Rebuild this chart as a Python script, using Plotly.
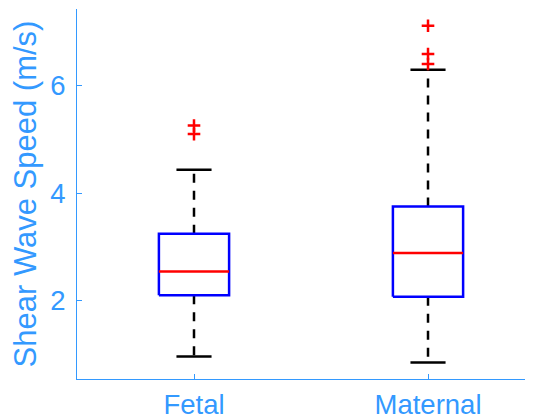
import plotly.graph_objects as go

# ---- data ----
categories = ["Fetal", "Maternal"]
positions = [1, 2]
q1 = [2.10, 2.07]
medians = [2.54, 2.885]
q3 = [3.245, 3.75]
lower_whisker = [0.963, 0.851]
upper_whisker = [4.433, 6.292]
outliers = [
    [5.253, 5.095],
    [7.110, 6.584, 6.398],
]
y_ticks = [2, 4, 6]

# ---- styles ----
BLUE_TXT = "#3399ff"
BOX_HALF = 0.15
CAP_HALF = 0.075
LW = 2.5
FONT = "Liberation Sans, Arial, Helvetica, sans-serif"

fig = go.Figure()

for i, p in enumerate(positions):
    # whiskers (dashed)
    fig.add_trace(go.Scatter(
        x=[p, p, None, p, p],
        y=[q3[i], upper_whisker[i], None, q1[i], lower_whisker[i]],
        mode="lines", line=dict(color="black", width=LW, dash="9px,8px"),
        hoverinfo="skip", showlegend=False))
    # caps
    fig.add_trace(go.Scatter(
        x=[p - CAP_HALF, p + CAP_HALF, None, p - CAP_HALF, p + CAP_HALF],
        y=[upper_whisker[i], upper_whisker[i], None, lower_whisker[i], lower_whisker[i]],
        mode="lines", line=dict(color="black", width=LW),
        hoverinfo="skip", showlegend=False))
    # box
    fig.add_trace(go.Scatter(
        x=[p - BOX_HALF, p + BOX_HALF, p + BOX_HALF, p - BOX_HALF, p - BOX_HALF],
        y=[q1[i], q1[i], q3[i], q3[i], q1[i]],
        mode="lines", line=dict(color="#0000ff", width=LW),
        hoverinfo="skip", showlegend=False))
    # median
    fig.add_trace(go.Scatter(
        x=[p - BOX_HALF, p + BOX_HALF],
        y=[medians[i], medians[i]],
        mode="lines", line=dict(color="#ff0000", width=LW),
        hoverinfo="skip", showlegend=False))
    # outliers
    fig.add_trace(go.Scatter(
        x=[p] * len(outliers[i]), y=outliers[i],
        mode="markers",
        marker=dict(symbol="cross-thin", size=9, line=dict(color="#ff0000", width=2.5)),
        showlegend=False))

axis_common = dict(
    showline=True, linecolor=BLUE_TXT, linewidth=1, mirror=False,
    ticks="inside", ticklen=5, tickcolor=BLUE_TXT, tickwidth=1,
    showgrid=False, zeroline=False, automargin=False,
    tickfont=dict(family=FONT, size=27.5, color=BLUE_TXT),
)

# the page body has an 8px margin, so the figure fits the 517px-wide body
fig.update_layout(
    width=517, height=412,
    margin=dict(l=69, r=0, t=1, b=41, autoexpand=False),
    paper_bgcolor="white", plot_bgcolor="white",
    xaxis=dict(range=[0.5, 2.4145], tickvals=positions, ticktext=categories,
               ticklabelstandoff=1, **axis_common),
    yaxis=dict(range=[0.543, 7.42], tickvals=y_ticks,
               ticklabelstandoff=5,
               title=dict(text="Shear Wave Speed (m/s)",
                          font=dict(family=FONT, size=31, color=BLUE_TXT),
                          standoff=4),
               **axis_common),
)

fig.write_html("out.html")
